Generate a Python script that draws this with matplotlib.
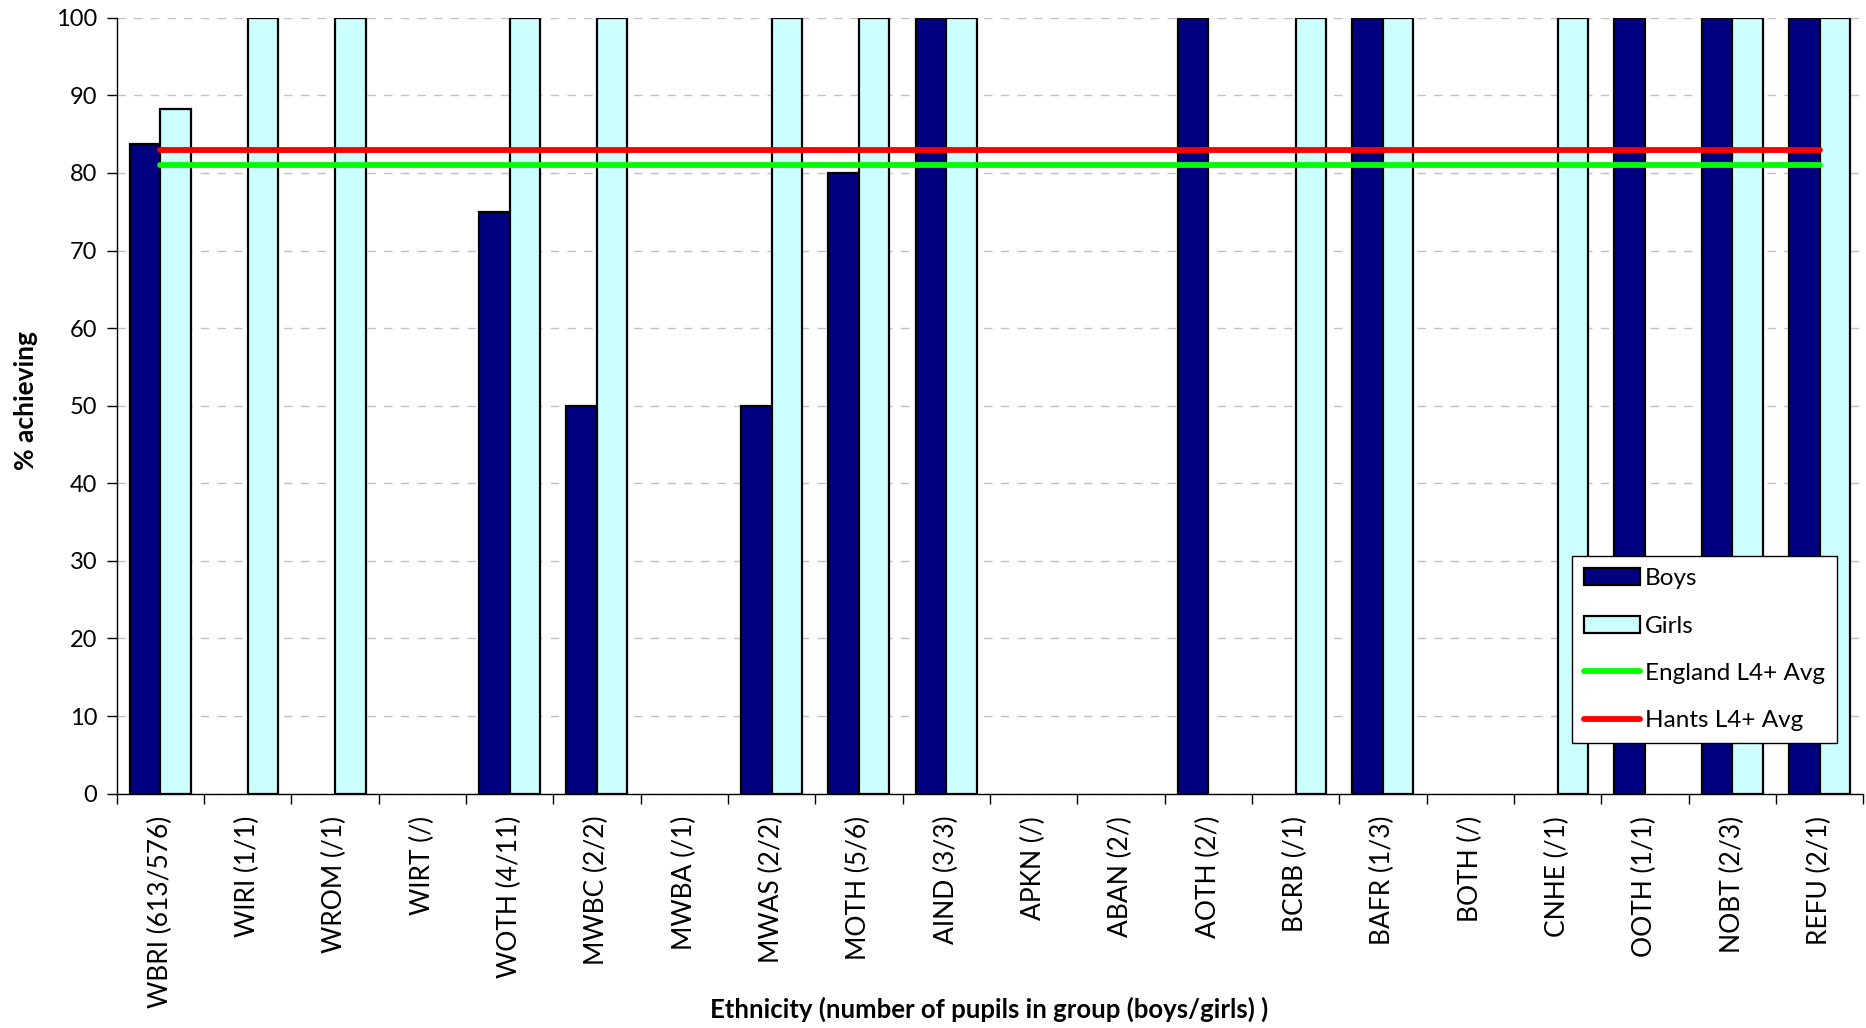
import matplotlib
matplotlib.use("Agg")
import matplotlib.pyplot as plt
from matplotlib.patches import Patch
from matplotlib.lines import Line2D
import numpy as np

plt.rcParams['font.family'] = ['Lato', 'DejaVu Sans']

# data
groups = ['WBRI (613/576)', 'WIRI (1/1)', 'WROM (/1)', 'WIRT (/)', 'WOTH (4/11)',
          'MWBC (2/2)', 'MWBA (/1)', 'MWAS (2/2)', 'MOTH (5/6)', 'AIND (3/3)',
          'APKN (/)', 'ABAN (2/)', 'AOTH (2/)', 'BCRB (/1)', 'BAFR (1/3)',
          'BOTH (/)', 'CNHE (/1)', 'OOTH (1/1)', 'NOBT (2/3)', 'REFU (2/1)']
boys = [83.7, 0, 0, 0, 75, 50, 0, 50, 80, 100, 0, 0, 100, 0, 100, 0, 0, 100, 100, 100]
girls = [88.2, 100, 100, 0, 100, 100, 0, 100, 100, 100, 0, 0, 0, 100, 100, 0, 100, 0, 100, 100]
england_avg = 81.0
hants_avg = 82.9

fig = plt.figure(figsize=(18.66, 10.28), dpi=100)
ax = fig.add_axes([0.0625, 0.228, 0.936, 0.7547])

x = np.arange(len(groups))
w = 0.35
# only draw bars that have a value
bx = [i for i in x if boys[i] > 0]
gx = [i for i in x if girls[i] > 0]
ax.bar(np.array(bx) - w / 2, [boys[i] for i in bx], w, color='#000080',
       edgecolor='black', linewidth=1.6, zorder=3)
ax.bar(np.array(gx) + w / 2, [girls[i] for i in gx], w, color='#CCFFFF',
       edgecolor='black', linewidth=1.6, zorder=3)

ax.plot([x[0], x[-1]], [england_avg, england_avg], color='#00FF00', lw=4.2,
        solid_capstyle='round', zorder=4)
ax.plot([x[0], x[-1]], [hants_avg, hants_avg], color='#FF0000', lw=4.2,
        solid_capstyle='round', zorder=4)

ax.set_xlim(-0.5, len(groups) - 0.5)
ax.set_ylim(0, 100)
ax.set_yticks(range(0, 101, 10))
ax.yaxis.grid(True, color='#c0c0c0', linestyle=(0, (6, 6)), linewidth=1)
ax.set_axisbelow(True)

ax.set_xticks(np.arange(-0.5, len(groups), 1))
ax.set_xticklabels([])
ax.set_xticks(x, minor=True)
ax.set_xticklabels(groups, minor=True, rotation=90, fontsize=19)
ax.tick_params(axis='x', which='minor', length=0, pad=16)
ax.tick_params(axis='x', which='major', length=7, width=1, direction='out')
ax.tick_params(axis='y', labelsize=17, length=7, width=1, pad=7, direction='out')

for s in ['top', 'right']:
    ax.spines[s].set_visible(False)
ax.spines['left'].set_linewidth(1)
ax.spines['bottom'].set_linewidth(1)

fig.text(0.0139, 0.61, '% achieving', fontsize=19, fontweight='bold',
         rotation=90, ha='center', va='center')
fig.text(0.53, 0.0185, 'Ethnicity (number of pupils in group (boys/girls) )',
         fontsize=18.5, fontweight='bold', ha='center', va='center')

handles = [Patch(facecolor='#000080', edgecolor='black', linewidth=1.6),
           Patch(facecolor='#CCFFFF', edgecolor='black', linewidth=1.6),
           Line2D([], [], color='#00FF00', lw=4.2, solid_capstyle='round'),
           Line2D([], [], color='#FF0000', lw=4.2, solid_capstyle='round')]
leg = fig.legend(handles, ['Boys', 'Girls', 'England L4+ Avg', 'Hants L4+ Avg'],
                 loc='upper left', bbox_to_anchor=(0.8424, 0.459),
                 fontsize=17.5, frameon=True, fancybox=False, edgecolor='black',
                 framealpha=1, labelspacing=1.08, handlelength=2.3,
                 handletextpad=0.2, borderpad=0.5, borderaxespad=0)
leg.get_frame().set_linewidth(1)

fig.savefig('out.png', dpi=100)
